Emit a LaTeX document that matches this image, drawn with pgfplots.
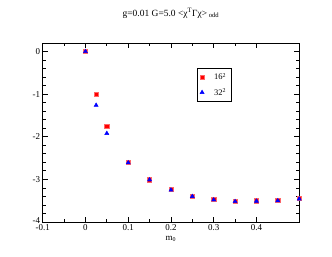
\documentclass[border=0pt]{standalone}
\usepackage{fontspec}
\setmainfont{Liberation Serif}
\usepackage{pgfplots}
\pgfplotsset{compat=1.18}
\begin{document}
\begin{tikzpicture}[x=1bp,y=1bp]
\path[use as bounding box] (0,0) rectangle (332,257);
\begin{axis}[
  at={(42.7bp,35bp)}, anchor=south west,
  scale only axis, width=256.5bp, height=179bp,
  xmin=-0.1, xmax=0.5, ymin=-4, ymax=0.2,
  xtick={-0.1,0,0.1,0.2,0.3,0.4},
  xticklabels={-0.1,0,0.1,0.2,0.3,0.4},
  ytick={-4,-3,-2,-1,0},
  yticklabels={\raisebox{3bp}{-4},-3,-2,-1,0},
  minor x tick num=1, minor y tick num=4,
  tick align=inside, major tick length=5bp, minor tick length=3bp,
  xtick pos=both, ytick pos=both,
  axis line style={line width=0.9pt}, every tick/.style={line width=0.8pt, black},
  tick label style={font=\fontsize{9}{10}\selectfont},
  xticklabel style={yshift=0.5bp},
  yticklabel style={xshift=1bp},
  title={g=0.01 G=5.0 <χ\textsuperscript{T}Γχ>\textsubscript{ odd}},
  title style={font=\fontsize{9.5}{11}\selectfont, at={(0.5,1)}, anchor=base, yshift=21bp},
  xlabel={m\textsubscript{0}},
  xlabel style={font=\fontsize{9}{10}\selectfont, yshift=2bp},
  legend style={at={(0.600,0.862)}, anchor=north west, draw=black, line width=0.8pt,
    font=\fontsize{8.5}{10}\selectfont, inner xsep=3bp, inner ysep=3bp, row sep=3bp},
  legend image code/.code={\draw[#1] (0bp,0bp) -- plot coordinates {(0bp,0bp)};},
  /tikz/every odd column/.append style={column sep=8bp},
  legend cell align=left,
]
\addplot[only marks, mark=square*, mark size=2.1bp, red, mark options={fill=red, draw=red!60!white, line width=0.5pt}] coordinates {
(0,0) (0.025,-1.0) (0.05,-1.75) (0.1,-2.59) (0.15,-3.01) (0.2,-3.24) (0.25,-3.39)
(0.3,-3.47) (0.35,-3.51) (0.4,-3.50) (0.45,-3.49) (0.5,-3.45)};
\addlegendentry{16\textsuperscript{2}}
\addplot[only marks, mark=triangle*, mark size=2.4bp, blue, mark options={fill=blue, draw=blue, line width=0.4pt}] coordinates {
(0,0) (0.025,-1.26) (0.05,-1.92) (0.1,-2.61) (0.15,-3.01) (0.2,-3.25) (0.25,-3.40)
(0.3,-3.48) (0.35,-3.52) (0.4,-3.51) (0.45,-3.50) (0.5,-3.46)};
\addlegendentry{32\textsuperscript{2}}
\end{axis}
\end{tikzpicture}
\end{document}
